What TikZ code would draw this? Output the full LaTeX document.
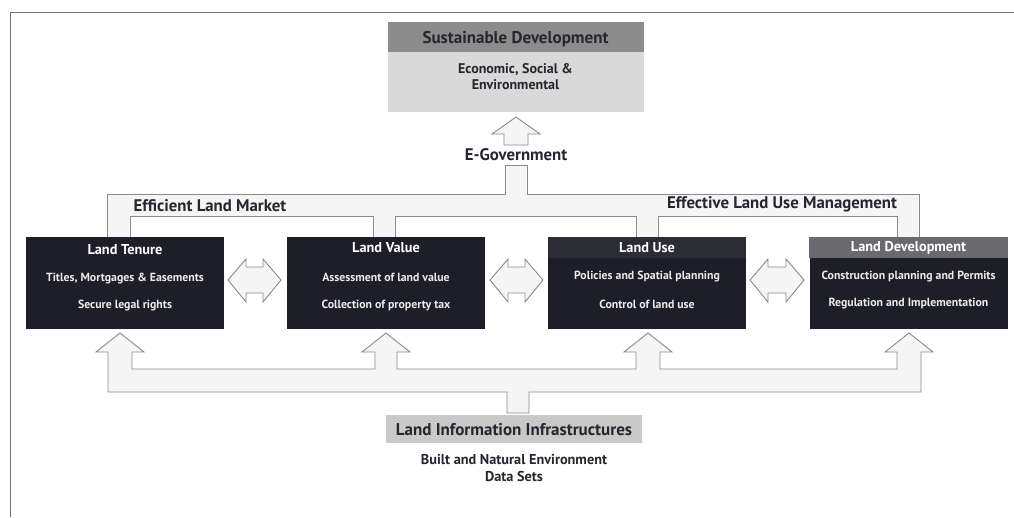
\documentclass[tikz,border=0pt]{standalone}
\usepackage{fontspec}
\setmainfont{PT Sans}
\definecolor{boxdark}{HTML}{1E1E28}
\definecolor{hdrgray}{HTML}{8C8C8C}
\definecolor{bodygray}{HTML}{D9D9D9}
\definecolor{infogray}{HTML}{C9C9C9}
\definecolor{devhdr}{HTML}{6A6A6E}
\definecolor{usehdr}{HTML}{2C2C34}
\definecolor{txtdark}{HTML}{26262E}
\definecolor{arrline}{HTML}{8A8A8A}
\definecolor{arrfill}{HTML}{F5F5F5}
\tikzset{
  darkbox/.style={draw=none, fill=boxdark, minimum width=198pt, minimum height=92pt, inner sep=0pt},
  hdrtext/.style={text=white, font=\bfseries\fontsize{14.3}{16}\selectfont},
  boxtext/.style={text=white!92!black, font=\bfseries\fontsize{11.8}{13}\selectfont},
  lbltext/.style={text=txtdark, font=\bfseries\fontsize{16.8}{18}\selectfont},
  hollow/.style={draw=arrline, fill=arrfill, line width=0.9pt, line join=miter},
}
\begin{document}
\begin{tikzpicture}[x=1pt,y=-1pt]
\useasboundingbox (0,0) rectangle (1014,517);
% frame
\draw[draw=black!55, line width=0.9pt] (10,517) -- (10,12) -- (1014,12);

% ---- top box: Sustainable Development
\node[fill=bodygray, minimum width=256pt, minimum height=90pt, inner sep=0pt] (sdbox) at (515.5,67) {};
\node[fill=hdrgray, minimum width=256pt, minimum height=30pt, inner sep=0pt] (sdhdr) at (515.5,37) {};
\node[text=txtdark, font=\bfseries\fontsize{17}{19}\selectfont] (sdtitle) at (515.5,39) {Sustainable Development};
\node[text=txtdark, font=\bfseries\fontsize{14}{16}\selectfont, align=center] (sdbody) at (515.5,77) {Economic, Social \&\\Environmental};

% ---- up arrow to Sustainable Development
\draw[hollow] (504,145) -- (504,134) -- (492,134) -- (516,117) -- (540,134) -- (528,134) -- (528,145) -- cycle;
\node[text=txtdark, font=\bfseries\fontsize{16.8}{18}\selectfont] (egov) at (516,155) {E-Government};

% ---- top tree connector
\draw[hollow] (505,165) -- (505,194) -- (107,194) -- (107,239) -- (130,239) -- (130,216)
  -- (373,216) -- (373,239) -- (395,239) -- (395,216) -- (636,216) -- (636,239)
  -- (658,239) -- (658,216) -- (897,216) -- (897,239) -- (919,239) -- (919,194)
  -- (527,194) -- (527,165) -- cycle;
\node[lbltext] (elm) at (210,206) {Efficient Land Market};
\node[lbltext] (elum) at (782,204) {Effective Land Use Management};

% ---- bottom tree connector
\draw[hollow] (507,413) -- (507,392) -- (108,392) -- (108,352) -- (96,352) -- (120,333)
  -- (144,352) -- (132,352) -- (132,369) -- (375,369) -- (375,352) -- (362,352)
  -- (386,333) -- (410,352) -- (397,352) -- (397,369) -- (636,369) -- (636,352)
  -- (624,352) -- (648,333) -- (672,352) -- (660,352) -- (660,369) -- (897,369)
  -- (897,352) -- (885,352) -- (909,333) -- (933,352) -- (921,352) -- (921,392)
  -- (529,392) -- (529,413) -- cycle;

% ---- four dark boxes
\node[darkbox] (tenure) at (125,283) {};
\node[darkbox] (value) at (386,283) {};
\node[darkbox] (use) at (647,283) {};
\node[darkbox] (dev) at (908.5,283) {};
\fill[usehdr] (use.north west) rectangle ([yshift=-21pt]use.north east);
\fill[devhdr] (dev.north west) rectangle ([yshift=-21pt]dev.north east);

\node[hdrtext] (tenureh) at (125,250) {Land Tenure};
\node[boxtext] (tenure1) at (125,279) {Titles, Mortgages \& Easements};
\node[boxtext] (tenure2) at (125,306) {Secure legal rights};

\node[hdrtext] (valueh) at (386,248) {Land Value};
\node[boxtext] (value1) at (386,277) {Assessment of land value};
\node[boxtext] (value2) at (386,305) {Collection of property tax};

\node[hdrtext] (useh) at (647,248) {Land Use};
\node[boxtext] (use1) at (647,277) {Policies and Spatial planning};
\node[boxtext] (use2) at (647,304) {Control of land use};

\node[hdrtext] (devh) at (908.5,248) {Land Development};
\node[boxtext] (dev1) at (908.5,277) {Construction planning and Permits};
\node[boxtext] (dev2) at (908.5,304) {Regulation and Implementation};

% ---- double arrows between boxes
\draw[hollow] (228,280) -- (246,259) -- (246,267) -- (263,267) -- (263,259) -- (281,280)
  -- (263,302) -- (263,293) -- (246,293) -- (246,302) -- cycle;
\draw[hollow] (490,280) -- (508,259) -- (508,267) -- (525,267) -- (525,259) -- (543,280)
  -- (525,302) -- (525,293) -- (508,293) -- (508,302) -- cycle;
\draw[hollow] (750,280) -- (768,259) -- (768,267) -- (786,267) -- (786,259) -- (804,280)
  -- (786,302) -- (786,293) -- (768,293) -- (768,302) -- cycle;

% ---- bottom box: Land Information Infrastructures
\node[fill=infogray, minimum width=256pt, minimum height=28pt, inner sep=0pt] (lii) at (514,429) {};
\node[text=txtdark, font=\bfseries\fontsize{17}{19}\selectfont] (liit) at (514,430) {Land Information Infrastructures};
\node[text=txtdark, font=\bfseries\fontsize{14.3}{17}\selectfont, align=center] (liib) at (514,468) {Built and Natural Environment\\Data Sets};
\end{tikzpicture}
\end{document}
